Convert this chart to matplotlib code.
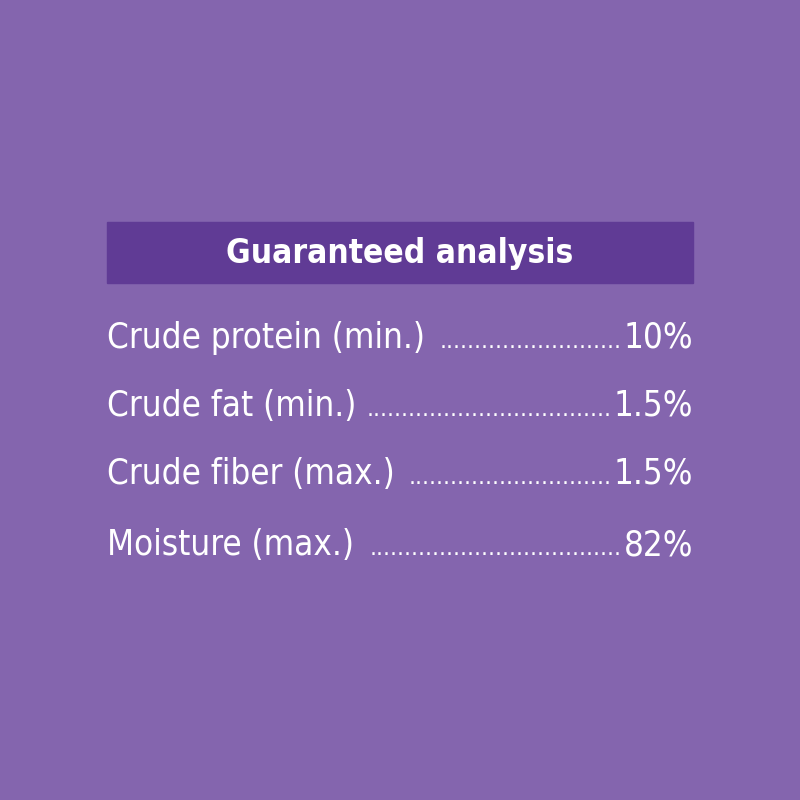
import matplotlib
matplotlib.use('Agg')
import matplotlib.pyplot as plt
from matplotlib.patches import Rectangle

title = "Guaranteed analysis"
labels = ["Crude protein (min.)", "Crude fat (min.)", "Crude fiber (max.)", "Moisture (max.)"]
values = ["10%", "1.5%", "1.5%", "82%"]

bg = "#8465ae"
bar = "#603b95"
fam = ['DejaVu Sans']

fig = plt.figure(figsize=(8, 8), dpi=100, facecolor=bg)
ax = fig.add_axes([0, 0, 1, 1])
ax.set_xlim(0, 800)
ax.set_ylim(800, 0)
ax.axis('off')
ax.set_facecolor(bg)

ax.add_patch(Rectangle((107, 222), 586, 61, color=bar))
ax.text(400, 253, title, ha='center', va='center', color='white',
        fontsize=24, fontweight='bold', family=fam, fontstretch='condensed')

fig.canvas.draw()
r = fig.canvas.get_renderer()
inv = ax.transData.inverted()

def width(t):
    bb = t.get_window_extent(r)
    return inv.transform((bb.x1, 0))[0] - inv.transform((bb.x0, 0))[0]

kw = dict(color='white', fontsize=25, family=fam, fontstretch='condensed')
ys = [338, 406, 474, 545]
for lab, val, y in zip(labels, values, ys):
    t1 = ax.text(107, y, lab, ha='left', va='center', **kw)
    t2 = ax.text(693, y, val, ha='right', va='center', **kw)
    left = 107 + width(t1) + 10
    right = 693 - width(t2) - 2
    probe = ax.text(0, 0, "..........", fontsize=16, family=fam)
    dw = width(probe) / 10
    probe.remove()
    n = max(int((right - left) / dw), 0)
    ax.text(right, y + 10, "." * n, ha='right', va='baseline', color='white',
            fontsize=16, family=fam)

fig.savefig("out.png", dpi=100, facecolor=bg)
